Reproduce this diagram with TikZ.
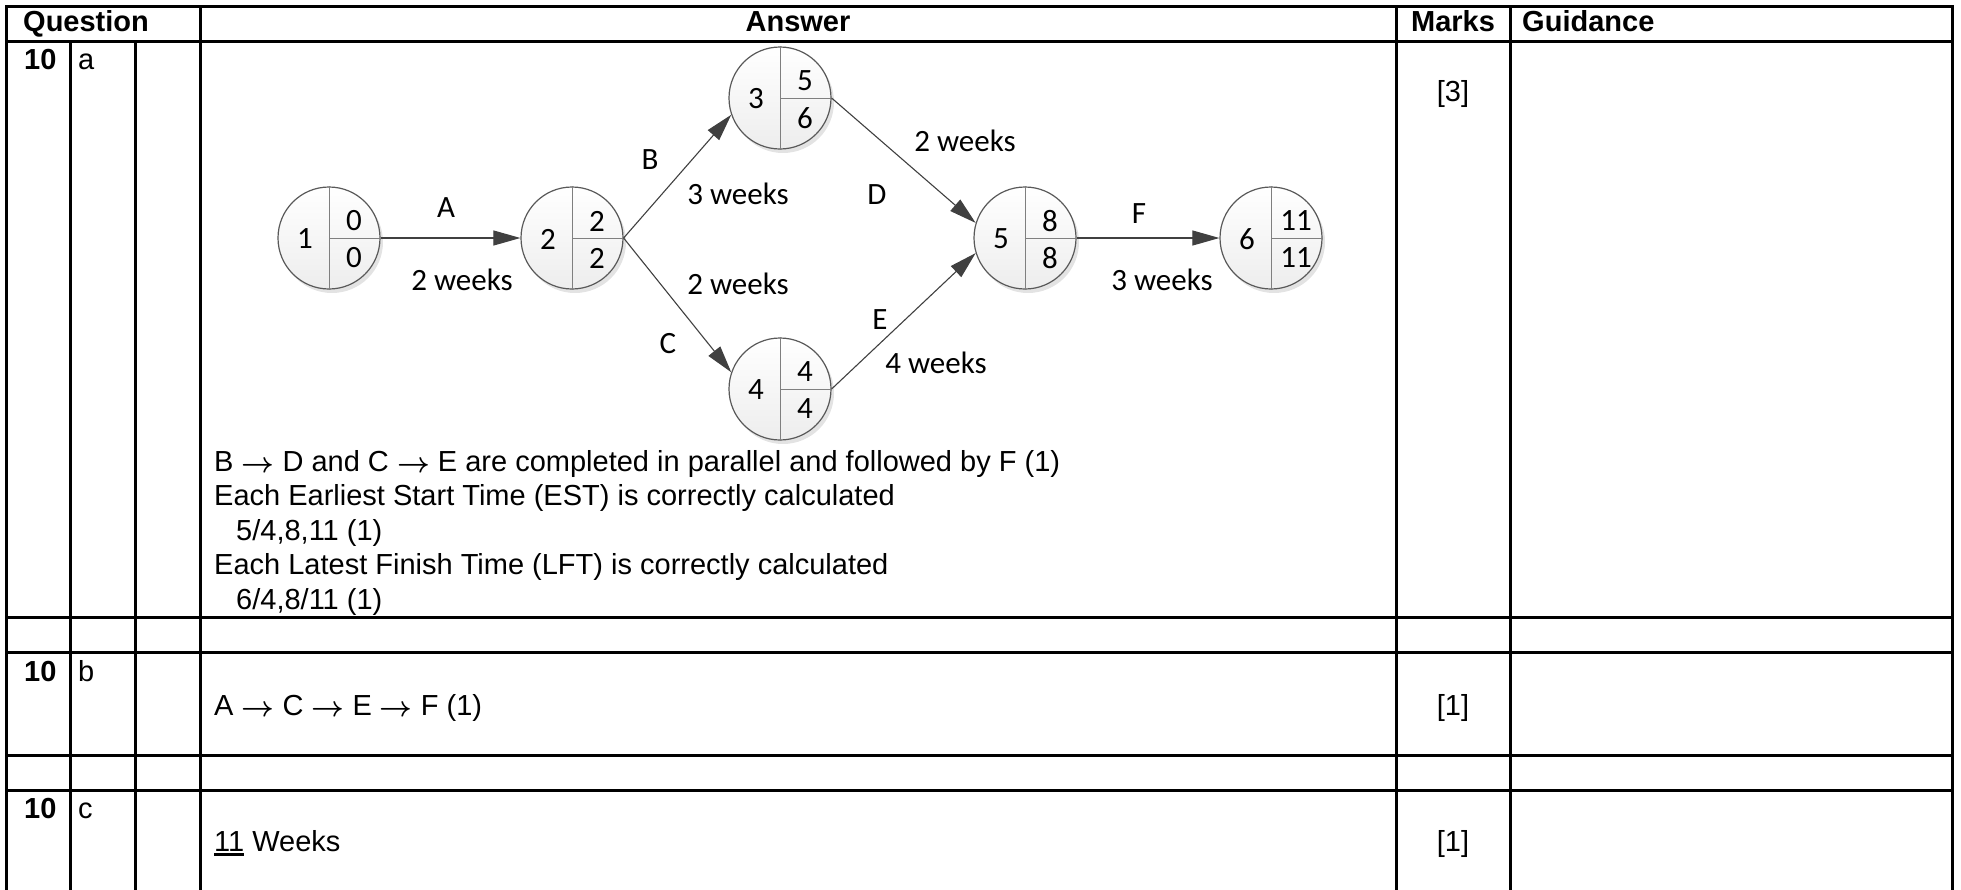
\documentclass[tikz,border=0pt]{standalone}
\usepackage{graphicx}
\usepackage{fontspec}
\setmainfont{Liberation Sans}
\newfontfamily\diagfont{Carlito}
\usetikzlibrary{arrows.meta,shadows,calc}

\definecolor{edgegray}{HTML}{404040}
\definecolor{circline}{HTML}{595959}
\definecolor{divline}{HTML}{7F7F7F}

\newcommand{\ra}{\raisebox{-1pt}{\scalebox{1.15}{\boldmath$\rightarrow$}}}
\newcommand{\ulthick}[1]{\leavevmode\setbox0\hbox{#1}\rlap{\rule[-4.5pt]{\wd0}{2.2pt}}\box0{}}

\newcommand{\evtnode}[6]{%
  \node[evt] (#1) at (#2,#3) {};
  \draw[divline, line width=1pt] (#1.north) -- (#1.south);
  \draw[divline, line width=1pt] (#1.center) -- (#1.east);
  \node[num] (#1-id) at ($(#1)+(-24,1)$) {#4};
  \node[num] (#1-es) at ($(#1)+(25,-17)$) {#5};
  \node[num] (#1-lf) at ($(#1)+(25,20)$) {#6};
}

\begin{document}
\begin{tikzpicture}[x=1pt,y=-1pt,
  tline/.style={line width=3pt, line cap=rect},
  evt/.style={circle, draw=circline, line width=1.2pt, minimum size=102pt, inner sep=0pt,
    top color=white, bottom color=gray!14,
    drop shadow={shadow xshift=3pt, shadow yshift=-4pt, fill=black!18, opacity=0.6}},
  num/.style={font=\diagfont\fontsize{31}{37}\selectfont, inner sep=0pt},
  dg/.style={font=\diagfont\fontsize{31}{37}\selectfont, inner sep=0pt},
  body/.style={font=\fontsize{29}{34}\selectfont, inner sep=0pt, anchor=base west},
  hdr/.style={font=\fontsize{29}{34}\selectfont\bfseries, inner sep=0pt},
  act/.style={draw=edgegray, line width=1.1pt, -{Triangle[length=27pt,width=15pt]}}
]
\useasboundingbox (0,0) rectangle (1961,889);

% ---- table grid ----
\foreach \yy in {6,41,617,652,755,790}
  \draw[tline] (6,\yy) -- (1952,\yy);
\foreach \xx in {6,200,1396,1510,1952}
  \draw[tline] (\xx,6) -- (\xx,895);
\foreach \xx in {70,135}
  \draw[tline] (\xx,41) -- (\xx,895);

% ---- header ----
\node[hdr, anchor=base west] (hq) at (23,31.5) {Question};
\node[hdr, anchor=base] (ha) at (798,31.5) {Answer};
\node[hdr, anchor=base] (hm) at (1453,31.5) {Marks};
\node[hdr, anchor=base west] (hg) at (1522,31.5) {Guidance};

% ---- question numbers ----
\node[hdr, anchor=base west] (qa) at (24,69) {10};
\node[body] (pa) at (78,69) {a};
\node[hdr, anchor=base west] (qb) at (24,681) {10};
\node[body] (pb) at (78,681) {b};
\node[hdr, anchor=base west] (qc) at (24,818) {10};
\node[body] (pc) at (78,818) {c};

% ---- network diagram ----
\evtnode{n1}{329}{238}{1}{0}{0}
\evtnode{n2}{572}{238}{2}{2}{2}
\evtnode{n3}{780}{98}{3}{5}{6}
\evtnode{n4}{780}{389}{4}{4}{4}
\evtnode{n5}{1025}{238}{5}{8}{8}
\evtnode{n6}{1271}{238}{6}{11}{11}

\draw[act] (n1.east) -- (n2.west);
\draw[act] (n2.east) -- (n3.199);
\draw[act] (n2.east) -- (n4.161);
\draw[act] (n3.east) -- (n5.163);
\draw[act] (n4.east) -- (n5.197);
\draw[act] (n5.east) -- (n6.west);

\node[dg] (lA) at (446,208) {A};
\node[dg] (lA2) at (462,280) {2 weeks};
\node[dg] (lB) at (650,160) {B};
\node[dg] (lB2) at (738,194) {3 weeks};
\node[dg] (lD) at (877,195) {D};
\node[dg] (lD2) at (965,141) {2 weeks};
\node[dg] (lC2) at (738,284) {2 weeks};
\node[dg] (lC) at (668,344) {C};
\node[dg] (lE) at (880,320) {E};
\node[dg] (lE2) at (936,363) {4 weeks};
\node[dg] (lF) at (1139,214) {F};
\node[dg] (lF2) at (1162,280) {3 weeks};

% ---- answer text ----
\node[body] (t1) at (214,471) {B \ra{} D and C \ra{} E are completed in parallel and followed by F (1)};
\node[body] (t2) at (214,505.5) {Each Earliest Start Time (EST) is correctly calculated};
\node[body] (t3) at (236,540) {5/4,8,11 (1)};
\node[body] (t4) at (214,574.5) {Each Latest Finish Time (LFT) is correctly calculated};
\node[body] (t5) at (236,609) {6/4,8/11 (1)};
\node[body] (tb) at (214,715) {A \ra{} C \ra{} E \ra{} F (1)};
\node[body] (tc) at (214,851) {\ulthick{11} Weeks};

% ---- marks ----
\node[body, anchor=base] (ma) at (1453,101) {[3]};
\node[body, anchor=base] (mb) at (1453,715) {[1]};
\node[body, anchor=base] (mc) at (1453,851) {[1]};
\end{tikzpicture}
\end{document}
